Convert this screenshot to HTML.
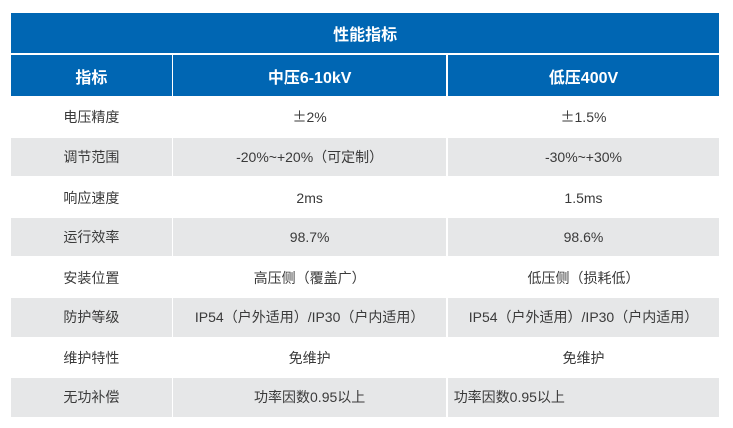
<!DOCTYPE html>
<html>
<head>
<meta charset="utf-8">
<style>
  html,body{margin:0;padding:0;background:#fff;}
  body{width:733px;height:428px;position:relative;overflow:hidden;
    font-family:"Liberation Sans","Noto Sans CJK SC",sans-serif;}
  .c{position:absolute;display:flex;align-items:center;justify-content:center;
    font-size:14px;color:#3a3a3a;white-space:nowrap;box-sizing:border-box;}
  .b{background:#0066b3;color:#fff;font-weight:bold;font-size:16px;}
  .g{background:#e6e7e8;}
  .l{justify-content:flex-start;padding-left:6px;}
  .pm{font-family:"Noto Sans CJK SC",sans-serif;}
</style>
</head>
<body>
<!-- title -->
<div class="c b" style="left:11px;top:13.3px;width:708.3px;height:40px;">性能指标</div>
<!-- header -->
<div class="c b" style="left:11px;top:55px;width:160.7px;height:41px;">指标</div>
<div class="c b" style="left:173.3px;top:55px;width:272.7px;height:41px;">中压6-10kV</div>
<div class="c b" style="left:447.7px;top:55px;width:271.6px;height:41px;">低压400V</div>

<!-- row1 -->
<div class="c" style="left:11px;top:96px;width:160.7px;height:41.7px;">电压精度</div>
<div class="c" style="left:173.3px;top:96px;width:272.7px;height:41.7px;"><span class="pm">±</span>2%</div>
<div class="c" style="left:447.7px;top:96px;width:271.6px;height:41.7px;"><span class="pm">±</span>1.5%</div>

<!-- row2 -->
<div class="c g" style="left:11px;top:137.7px;width:160.7px;height:38.5px;">调节范围</div>
<div class="c g" style="left:173.3px;top:137.7px;width:272.7px;height:38.5px;">-20%~+20%（可定制）</div>
<div class="c g" style="left:447.7px;top:137.7px;width:271.6px;height:38.5px;">-30%~+30%</div>

<!-- row3 -->
<div class="c" style="left:11px;top:177.7px;width:160.7px;height:40px;">响应速度</div>
<div class="c" style="left:173.3px;top:177.7px;width:272.7px;height:40px;">2ms</div>
<div class="c" style="left:447.7px;top:177.7px;width:271.6px;height:40px;">1.5ms</div>

<!-- row4 -->
<div class="c g" style="left:11px;top:217.7px;width:160.7px;height:38.5px;">运行效率</div>
<div class="c g" style="left:173.3px;top:217.7px;width:272.7px;height:38.5px;">98.7%</div>
<div class="c g" style="left:447.7px;top:217.7px;width:271.6px;height:38.5px;">98.6%</div>

<!-- row5 -->
<div class="c" style="left:11px;top:257.7px;width:160.7px;height:40px;">安装位置</div>
<div class="c" style="left:173.3px;top:257.7px;width:272.7px;height:40px;">高压侧（覆盖广）</div>
<div class="c" style="left:447.7px;top:257.7px;width:271.6px;height:40px;">低压侧（损耗低）</div>

<!-- row6 -->
<div class="c g" style="left:11px;top:297.7px;width:160.7px;height:39px;">防护等级</div>
<div class="c g" style="left:173.3px;top:297.7px;width:272.7px;height:39px;">IP54（户外适用）/IP30（户内适用）</div>
<div class="c g" style="left:447.7px;top:297.7px;width:271.6px;height:39px;">IP54（户外适用）/IP30（户内适用）</div>

<!-- row7 -->
<div class="c" style="left:11px;top:337.7px;width:160.7px;height:40px;">维护特性</div>
<div class="c" style="left:173.3px;top:337.7px;width:272.7px;height:40px;">免维护</div>
<div class="c" style="left:447.7px;top:337.7px;width:271.6px;height:40px;">免维护</div>

<!-- row8 -->
<div class="c g" style="left:11px;top:377.7px;width:160.7px;height:39px;">无功补偿</div>
<div class="c g" style="left:173.3px;top:377.7px;width:272.7px;height:39px;">功率因数0.95以上</div>
<div class="c g l" style="left:447.7px;top:377.7px;width:271.6px;height:39px;">功率因数0.95以上</div>
</body>
</html>
